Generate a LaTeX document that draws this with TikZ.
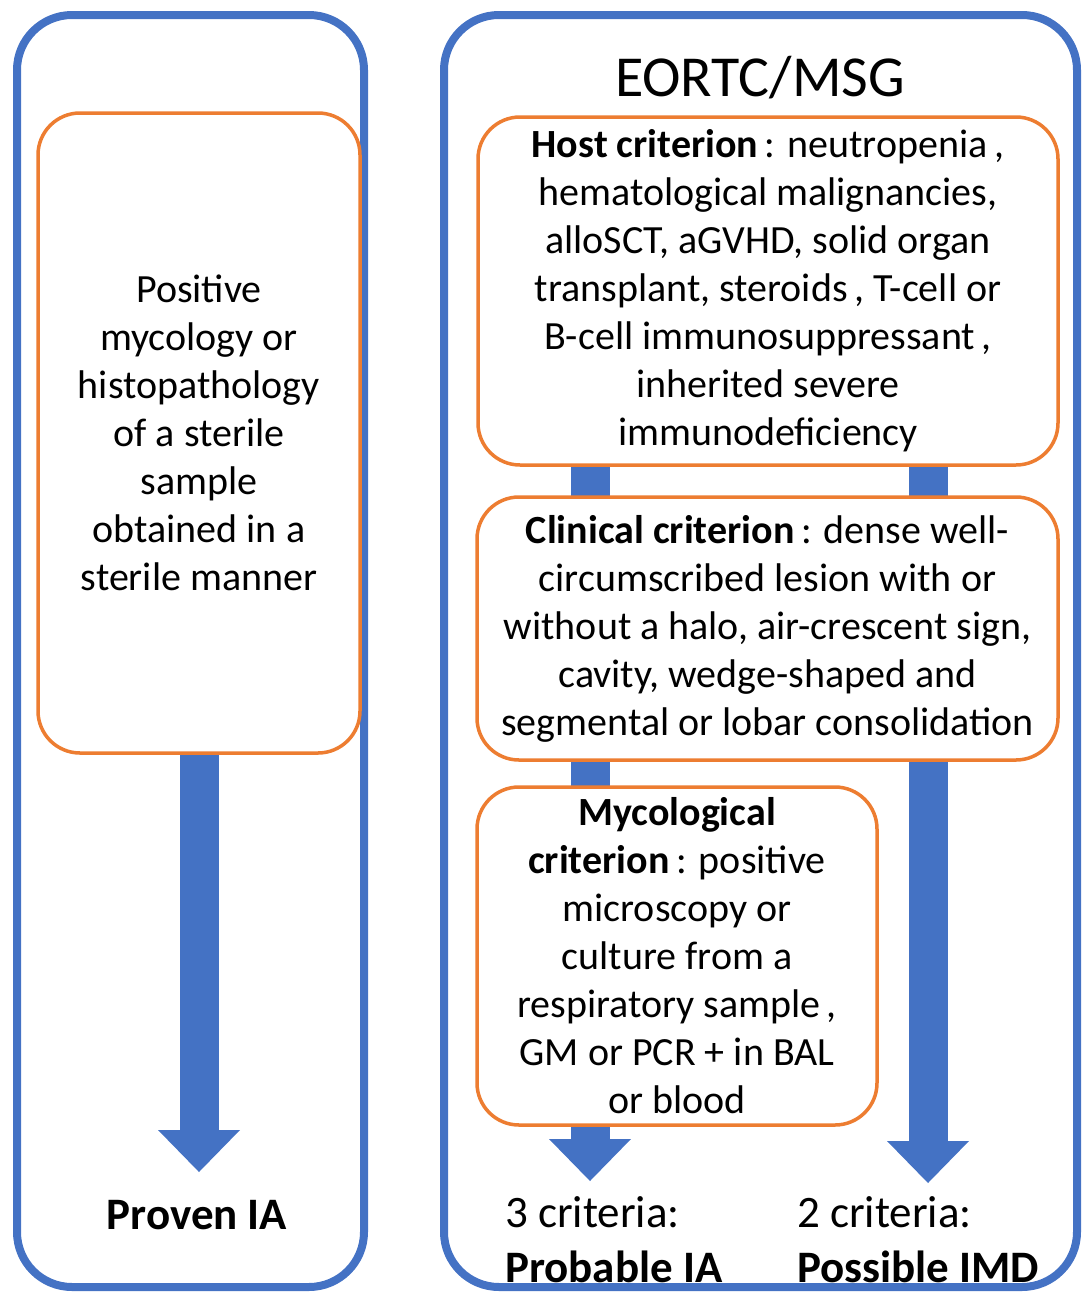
\documentclass[tikz,border=0pt]{standalone}
\usepackage{fontspec}
\setmainfont{Carlito}
\usetikzlibrary{arrows.meta,backgrounds}
\definecolor{boxblue}{HTML}{4472C4}
\definecolor{boxorange}{HTML}{ED7D31}
\begin{document}
\begin{tikzpicture}
      [x=1pt,y=-1pt,
      outer box/.style={draw=boxblue,line width=8pt,rounded corners=55pt,inner sep=0pt},
      crit box/.style={draw=boxorange,fill=white,line width=3.5pt,rounded corners=42pt,
        align=center,inner sep=0pt,font=\fontsize{40}{48}\selectfont},
      big arrow/.style={draw=boxblue,line width=39pt,
        -{Triangle[width=82pt,length=42pt,line width=0pt]}},
      result text/.style={inner sep=0pt,align=left,font=\fontsize{45}{55}\selectfont}]
      \useasboundingbox (0,0) rectangle (1083,1299);
      \node[outer box,minimum width=347pt,minimum height=1272pt] (proven) at (190.5,651) {};
      \node[outer box,minimum width=633pt,minimum height=1272pt] (eortc) at (760.5,651) {};
      \node[font=\fontsize{58}{70}\selectfont] (title) at (760,78) {EORTC/MSG};
      \node[crit box,minimum width=322pt,minimum height=640pt] (sterile) at (199,433)
        {Positive\\mycology or\\histopathology\\of a sterile\\sample\\obtained in a\\sterile manner};
      \node[crit box,minimum width=580pt,minimum height=348pt] (host) at (768,291)
        {\textbf{Host criterion}\,: neutropenia\,,\\hematological malignancies,\\alloSCT, aGVHD, solid organ\\transplant, steroids\,, T-cell or\\B-cell immunosuppressant\,,\\inherited severe\\immunodeficiency};
      \node[crit box,minimum width=581pt,minimum height=263pt] (clinical) at (767.5,628.5)
        {\textbf{Clinical criterion}\,: dense well-\\circumscribed lesion with or\\without a halo, air-crescent sign,\\cavity, wedge-shaped and\\segmental or lobar consolidation};
      \node[crit box,minimum width=400pt,minimum height=338pt] (myco) at (677,956)
        {\textbf{Mycological}\\\textbf{criterion}\,: positive\\microscopy or\\culture from a\\respiratory sample\,,\\GM or PCR + in BAL\\or blood};
      \node[result text] (proven ia) at (197,1215) {\textbf{Proven IA}};
      \node[result text,anchor=west] (probable) at (505,1240) {3 criteria:\\\textbf{Probable IA}};
      \node[result text,anchor=west] (possible) at (797,1240) {2 criteria:\\\textbf{Possible IMD}};
      \coordinate (proven tip) at (199,1172);
      \coordinate (probable tip) at (590,1181);
      \coordinate (possible tip) at (928,1183);
      \begin{scope}[on background layer]
        \draw[big arrow] (sterile.south) -- (proven tip);
        \draw[big arrow] (host.south -| probable tip) -- (probable tip);
        \draw[big arrow] (host.south -| possible tip) -- (possible tip);
      \end{scope}
    \end{tikzpicture}
\end{document}
